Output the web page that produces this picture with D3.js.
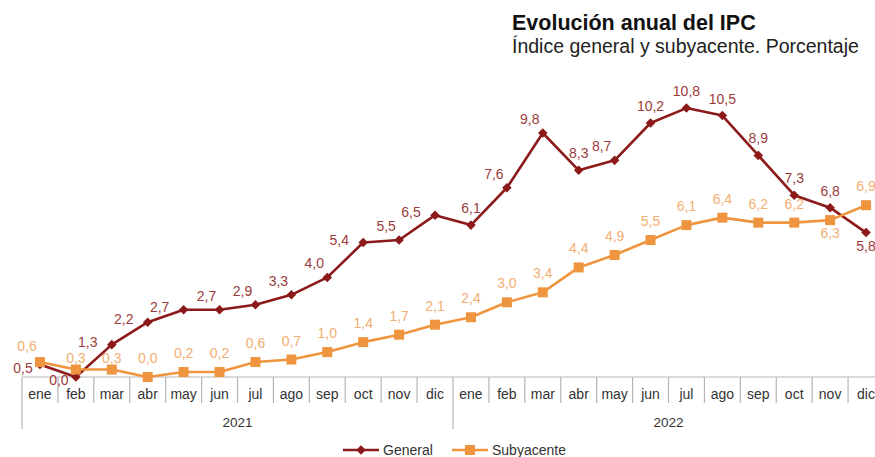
<!DOCTYPE html>
<html>
<head>
<meta charset="utf-8">
<script src="https://cdn.jsdelivr.net/npm/d3@7/dist/d3.min.js"></script>
<style>
  html, body { margin: 0; padding: 0; background: #fff; overflow: hidden; }
  svg { display: block; font-family: "Liberation Sans", Arial, sans-serif; }
</style>
</head>
<body>
<svg id="chart" width="875" height="457"></svg>
<script>
// Monthly categories (two years) and annual CPI rates, in percent
const months = ["ene","feb","mar","abr","may","jun","jul","ago","sep","oct","nov","dic"];
const years = ["2021", "2022"];
const general = [0.5, 0.0, 1.3, 2.2, 2.7, 2.7, 2.9, 3.3, 4.0, 5.4, 5.5, 6.5,
                 6.1, 7.6, 9.8, 8.3, 8.7, 10.2, 10.8, 10.5, 8.9, 7.3, 6.8, 5.8];
const subyacente = [0.6, 0.3, 0.3, 0.0, 0.2, 0.2, 0.6, 0.7, 1.0, 1.4, 1.7, 2.1,
                    2.4, 3.0, 3.4, 4.4, 4.9, 5.5, 6.1, 6.4, 6.2, 6.2, 6.3, 6.9];
const seriesNames = ["General", "Subyacente"];

// Where each value label sits relative to its point
const generalLabelPlace = ["BL","BL","L","L","L","UL","UL","UL","UL","L","UL","L",
                           "U","UL","UL","U","UL","U","U","U","U","U","U","B"];
const subyacenteLabelPlace = ["UL","S","S","U","U","U","U","U","U","U","U","U",
                              "U","U","U","U","U","U","U","U","U","U","B","U"];

const colGeneral = "#8c1a1a", colGeneralText = "#9c3b3b";
const colSub = "#f0953f", colSubText = "#f3ae72";
const axisCol = "#b5b5b5", textCol = "#333";

const svg = d3.select("#chart");
const left = 22, right = 884, axisY = 377;

const categories = d3.range(months.length * years.length);
const x = d3.scaleBand().domain(categories).range([left, right]).padding(0);
const y = d3.scaleLinear().domain([0, 12]).range([axisY, axisY - 12 * 24.9]);
const cx = i => x(i) + x.bandwidth() / 2;

// Title
svg.append("text").attr("x", 512).attr("y", 30)
  .attr("font-size", 21.5).attr("font-weight", "bold").attr("fill", "#111")
  .text("Evolución anual del IPC");
svg.append("text").attr("x", 512).attr("y", 53)
  .attr("font-size", 19.5).attr("fill", "#222")
  .text("Índice general y subyacente. Porcentaje");

// Category axis: baseline, month separators and year separators
const axis = svg.append("g");
axis.append("line").attr("x1", left).attr("x2", right).attr("y1", axisY).attr("y2", axisY)
  .attr("stroke", axisCol).attr("stroke-width", 1.2);
d3.range(categories.length + 1).forEach(i => {
  const xx = i < categories.length ? x(i) : right;
  const long = i % 12 === 0;
  axis.append("line").attr("x1", xx).attr("x2", xx)
    .attr("y1", axisY).attr("y2", long ? 429 : 403)
    .attr("stroke", axisCol).attr("stroke-width", 1.2);
});
axis.selectAll("text.month").data(categories).join("text")
  .attr("class", "month")
  .attr("x", d => cx(d)).attr("y", 399)
  .attr("text-anchor", "middle").attr("font-size", 14).attr("fill", textCol)
  .text(d => months[d % 12]);
axis.selectAll("text.year").data(years).join("text")
  .attr("class", "year")
  .attr("x", (d, k) => (x(k * 12) + (k === years.length - 1 ? right : x(k * 12 + 12))) / 2)
  .attr("y", 427)
  .attr("text-anchor", "middle").attr("font-size", 13.5).attr("fill", textCol)
  .text(d => d);

const line = d3.line().x((d, i) => cx(i)).y(d => y(d));
const offsets = {
  L: [-24, -3], BL: [-17, 3], UL: [-13, -14], U: [0, -17], S: [0, -10], B: [0, 13]
};

function drawLabels(values, places, color, extraDy) {
  svg.append("g").selectAll("text").data(values).join("text")
    .attr("x", (d, i) => cx(i) + offsets[places[i]][0])
    .attr("y", (d, i) => y(d) + offsets[places[i]][1] + (places[i] === "B" ? 0 : extraDy))
    .attr("text-anchor", "middle").attr("dominant-baseline", "central")
    .attr("font-size", 14).attr("fill", color)
    .text(d => d.toFixed(1).replace(".", ","));
}

// General series: line with diamond markers
svg.append("path").datum(general).attr("d", line)
  .attr("fill", "none").attr("stroke", colGeneral).attr("stroke-width", 2.6)
  .attr("stroke-linejoin", "round");
const diamond = d3.symbol().type(d3.symbolDiamond2).size(58);
svg.append("g").selectAll("path").data(general).join("path")
  .attr("d", diamond)
  .attr("transform", (d, i) => `translate(${cx(i)},${y(d)})`)
  .attr("fill", colGeneral);

// Subyacente series: line with square markers
svg.append("path").datum(subyacente).attr("d", line)
  .attr("fill", "none").attr("stroke", colSub).attr("stroke-width", 2.6)
  .attr("stroke-linejoin", "round");
svg.append("g").selectAll("rect").data(subyacente).join("rect")
  .attr("x", (d, i) => cx(i) - 5).attr("y", d => y(d) - 5)
  .attr("width", 10).attr("height", 10)
  .attr("fill", colSub);

drawLabels(general, generalLabelPlace, colGeneralText, 0);
drawLabels(subyacente, subyacenteLabelPlace, colSubText, -2);

// Legend
const legend = svg.append("g");
const legendY = 450;
const legendItems = [
  { name: seriesNames[0], color: colGeneral, x0: 343, shape: "diamond" },
  { name: seriesNames[1], color: colSub, x0: 452, shape: "square" }
];
legendItems.forEach(it => {
  legend.append("line").attr("x1", it.x0).attr("x2", it.x0 + 36)
    .attr("y1", legendY).attr("y2", legendY)
    .attr("stroke", it.color).attr("stroke-width", 2.6);
  if (it.shape === "diamond") {
    legend.append("path").attr("d", diamond)
      .attr("transform", `translate(${it.x0 + 18},${legendY})`).attr("fill", it.color);
  } else {
    legend.append("rect").attr("x", it.x0 + 13).attr("y", legendY - 5)
      .attr("width", 10).attr("height", 10).attr("fill", it.color);
  }
  legend.append("text").attr("x", it.x0 + 40).attr("y", legendY)
    .attr("dominant-baseline", "central")
    .attr("font-size", 14).attr("fill", textCol).text(it.name);
});
</script>
</body>
</html>
